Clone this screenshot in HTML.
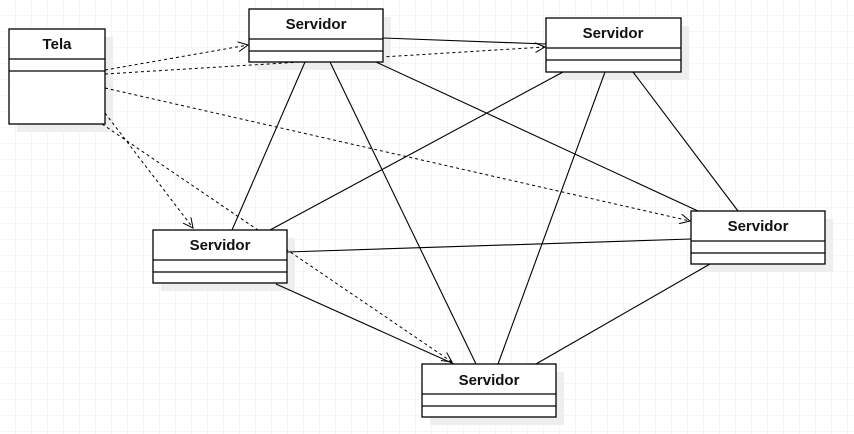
<!DOCTYPE html><html><head><style>body{margin:0;background:#fff}svg{display:block}text{font-family:"Liberation Sans",sans-serif;font-weight:bold;font-size:15px;fill:#111}</style></head><body>
<svg width="854" height="434" xmlns="http://www.w3.org/2000/svg">
<defs><pattern id="g" width="16" height="16" patternUnits="userSpaceOnUse"><path d="M16 0V16H0" fill="none" stroke="#ececec" stroke-width="1"/></pattern>
<marker id="a" markerWidth="12" markerHeight="12" refX="10" refY="5" orient="auto" markerUnits="userSpaceOnUse"><path d="M0 0L10 5L0 10" fill="none" stroke="#000" stroke-width="1"/></marker></defs>
<rect width="854" height="434" fill="url(#g)"/>
<g fill="#eee">
<rect x="17" y="37" width="96" height="95"/>
<rect x="257" y="17" width="134" height="53"/>
<rect x="554" y="26" width="135" height="54"/>
<rect x="161" y="238" width="134" height="53"/>
<rect x="699" y="219" width="134" height="53"/>
<rect x="430" y="372" width="134" height="53"/>
</g>
<g stroke="#000" stroke-width="1.1" fill="none">
<line x1="383" y1="38" x2="546" y2="44"/>
<line x1="305" y1="62" x2="232" y2="230"/>
<line x1="330" y1="62" x2="476" y2="364"/>
<line x1="376" y1="62" x2="698" y2="211"/>
<line x1="563" y1="72" x2="270" y2="230"/>
<line x1="605" y1="72" x2="498" y2="364"/>
<line x1="633" y1="72" x2="738" y2="211"/>
<line x1="287" y1="252" x2="691" y2="239"/>
<line x1="276" y1="284" x2="454" y2="364"/>
<line x1="710" y1="264" x2="536" y2="364"/>
</g>
<g stroke="#000" stroke-width="1" fill="none" stroke-dasharray="3,3">
<line x1="105" y1="70" x2="248" y2="45" marker-end="url(#a)"/>
<line x1="105" y1="74" x2="545" y2="47" marker-end="url(#a)"/>
<line x1="105" y1="88" x2="690" y2="221" marker-end="url(#a)"/>
<line x1="105" y1="113" x2="193" y2="228" marker-end="url(#a)"/>
<line x1="102" y1="124" x2="452" y2="362" marker-end="url(#a)"/>
</g>
<g fill="#fff" stroke="#000" stroke-width="1.3">
<rect x="9" y="29" width="96" height="95"/><line x1="9" y1="59" x2="105" y2="59"/><line x1="9" y1="71" x2="105" y2="71"/>
<rect x="249" y="9" width="134" height="53"/><line x1="249" y1="39" x2="383" y2="39"/><line x1="249" y1="51" x2="383" y2="51"/>
<rect x="546" y="18" width="135" height="54"/><line x1="546" y1="48" x2="681" y2="48"/><line x1="546" y1="60" x2="681" y2="60"/>
<rect x="153" y="230" width="134" height="53"/><line x1="153" y1="260" x2="287" y2="260"/><line x1="153" y1="272" x2="287" y2="272"/>
<rect x="691" y="211" width="134" height="53"/><line x1="691" y1="241" x2="825" y2="241"/><line x1="691" y1="253" x2="825" y2="253"/>
<rect x="422" y="364" width="134" height="53"/><line x1="422" y1="394" x2="556" y2="394"/><line x1="422" y1="406" x2="556" y2="406"/>
</g>
<text x="57" y="49" text-anchor="middle">Tela</text>
<text x="316" y="29" text-anchor="middle">Servidor</text>
<text x="613" y="38" text-anchor="middle">Servidor</text>
<text x="220" y="250" text-anchor="middle">Servidor</text>
<text x="758" y="231" text-anchor="middle">Servidor</text>
<text x="489" y="385" text-anchor="middle">Servidor</text>
</svg></body></html>
